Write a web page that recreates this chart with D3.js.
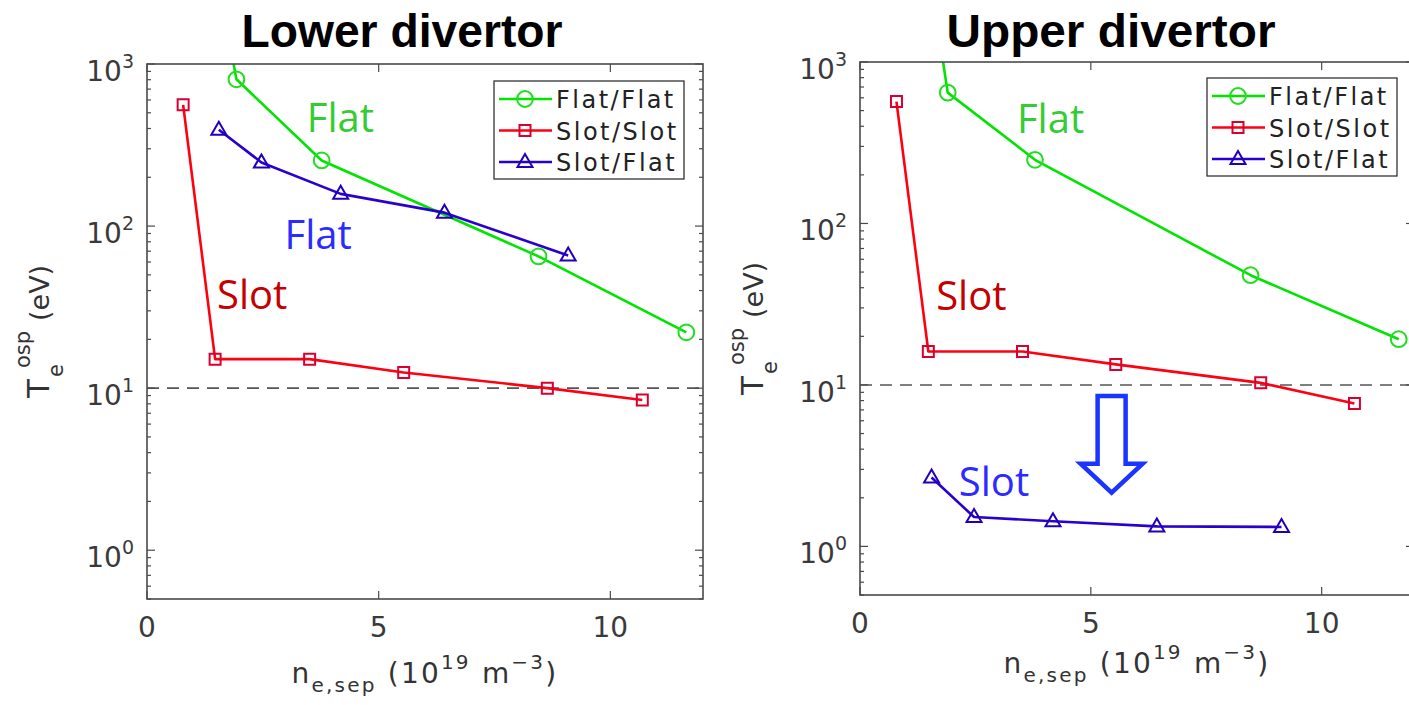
<!DOCTYPE html>
<html>
<head>
<meta charset="utf-8">
<script src="https://cdn.jsdelivr.net/npm/d3@7/dist/d3.min.js"></script>
<style>
  html, body { margin: 0; padding: 0; background: #fff; }
  svg { display: block; }
</style>
</head>
<body>
<svg id="chart" width="1409" height="705"></svg>
<script>
// ---- data: electron temperature at the outer strike point vs separatrix density ----
const seriesNames = ["Flat/Flat", "Slot/Slot", "Slot/Flat"];

// Lower divertor
const lowerFlatFlatN  = [1.5, 1.93, 3.77, 8.45, 11.64];
const lowerFlatFlatTe = [3800, 805, 254, 65, 22.1];
const lowerSlotSlotN  = [0.78, 1.47, 3.51, 5.54, 8.64, 10.69];
const lowerSlotSlotTe = [560, 15.1, 15.1, 12.5, 10.0, 8.44];
const lowerSlotFlatN  = [1.55, 2.47, 4.18, 6.42, 9.09];
const lowerSlotFlatTe = [393, 247, 158, 121, 65.8];

// Upper divertor
const upperFlatFlatN  = [1.5, 1.9, 3.79, 8.46, 11.67];
const upperFlatFlatTe = [3700, 646, 248, 47.8, 19.2];
const upperSlotSlotN  = [0.79, 1.48, 3.52, 5.54, 8.68, 10.71];
const upperSlotSlotTe = [569, 16.1, 16.1, 13.4, 10.3, 7.67];
const upperSlotFlatN  = [1.55, 2.47, 4.18, 6.43, 9.13];
const upperSlotFlatTe = [2.67, 1.52, 1.43, 1.33, 1.32];

// axes
const xDomain = [0, 12];
const yDomain = [0.5, 1000];
const xTicks = [0, 5, 10];
const yMajorTicks = [1, 10, 100, 1000];
const thresholdTe = 10;

// annotations: [text, n, Te (baseline), colour]
const lowerNotes = [["Flat", 3.45, 382, "#33cc33"], ["Flat", 2.97, 71.7, "#2b2bff"], ["Slot", 1.51, 30.6, "#c40000"]];
const upperNotes = [["Flat", 3.40, 365, "#33cc33"], ["Slot", 1.65, 29.0, "#c40000"], ["Slot", 2.14, 2.04, "#2b2bff"]];

// styles
const lineColors   = ["#00e400", "#ff0010", "#2a00d0"];
const markerColors = ["#22dd22", "#d80030", "#2200bb"];
const markerTypes  = ["circle", "square", "triangle"];
const axisColor = "#4a4a4a";
const textFont = "'DejaVu Sans', 'Liberation Sans', sans-serif";

const svg = d3.select("#chart");

function markerPath(type) {
  if (type === "circle") return d3.symbol(d3.symbolCircle, 195)();
  if (type === "square") return "M-5.5,-5.5H5.5V5.5H-5.5Z";
  return "M0,-8L7.5,5L-7.5,5Z";
}

function drawPanel(cfg) {
  const g = svg.append("g");
  const x = d3.scaleLinear().domain(xDomain).range([cfg.left, cfg.right]);
  const y = d3.scaleLog().domain(yDomain).range([cfg.bottom, cfg.top]);
  const clipId = "clip" + cfg.id;

  svg.append("clipPath").attr("id", clipId)
    .append("rect")
    .attr("x", cfg.left).attr("y", cfg.top)
    .attr("width", cfg.right - cfg.left).attr("height", cfg.bottom - cfg.top);

  // title
  g.append("text")
    .attr("x", cfg.titleX).attr("y", 47)
    .attr("text-anchor", "middle")
    .attr("font-family", "'Liberation Sans Narrow', 'Liberation Sans', Roboto, sans-serif")
    .attr("font-weight", "bold").attr("font-size", 46)
    .attr("textLength", cfg.titleW).attr("lengthAdjust", "spacingAndGlyphs")
    .attr("fill", "#000")
    .text(cfg.title);

  // threshold line
  g.append("line")
    .attr("x1", cfg.left).attr("x2", cfg.right)
    .attr("y1", y(thresholdTe)).attr("y2", y(thresholdTe))
    .attr("stroke", "#555").attr("stroke-width", 1.6)
    .attr("stroke-dasharray", "12,8");

  // series
  const plot = g.append("g").attr("clip-path", `url(#${clipId})`);
  const line = d3.line().x(d => x(d[0])).y(d => y(d[1]));
  cfg.series.forEach((s, i) => {
    const pts = d3.zip(s[0], s[1]);
    plot.append("path")
      .attr("d", line(pts))
      .attr("fill", "none")
      .attr("stroke", lineColors[i]).attr("stroke-width", 2.6)
      .attr("stroke-linejoin", "round");
    plot.selectAll(null).data(pts).join("path")
      .attr("d", markerPath(markerTypes[i]))
      .attr("transform", d => `translate(${x(d[0])},${y(d[1])})`)
      .attr("fill", "none")
      .attr("stroke", markerColors[i]).attr("stroke-width", 2);
  });

  // frame
  g.append("rect")
    .attr("x", cfg.left).attr("y", cfg.top)
    .attr("width", cfg.right - cfg.left).attr("height", cfg.bottom - cfg.top)
    .attr("fill", "none").attr("stroke", axisColor).attr("stroke-width", 1.6);

  // y ticks (log, inward on both sides)
  const minor = [];
  for (let e = -1; e <= 2; e++) for (let m = 2; m <= 9; m++) {
    const v = m * Math.pow(10, e);
    if (v >= yDomain[0] && v <= yDomain[1]) minor.push(v);
  }
  const yt = g.append("g").attr("stroke", axisColor).attr("stroke-width", 1.2);
  minor.forEach(v => {
    yt.append("line").attr("x1", cfg.left).attr("x2", cfg.left + 4).attr("y1", y(v)).attr("y2", y(v));
    yt.append("line").attr("x1", cfg.right).attr("x2", cfg.right - 4).attr("y1", y(v)).attr("y2", y(v));
  });
  yMajorTicks.forEach(v => {
    yt.append("line").attr("x1", cfg.left).attr("x2", cfg.left + 8).attr("y1", y(v)).attr("y2", y(v));
    yt.append("line").attr("x1", cfg.right).attr("x2", cfg.right - 8).attr("y1", y(v)).attr("y2", y(v));
    const t = g.append("text")
      .attr("x", cfg.left - 13).attr("y", y(v) + 17)
      .attr("text-anchor", "end")
      .attr("font-family", textFont).attr("font-size", 28).attr("fill", "#3a3a3a");
    t.append("tspan").text("10");
    t.append("tspan").attr("dy", -13).attr("font-size", 19).text(Math.round(Math.log10(v)));
  });

  // x ticks
  xTicks.forEach(v => {
    yt.append("line").attr("x1", x(v)).attr("x2", x(v)).attr("y1", cfg.bottom).attr("y2", cfg.bottom - 8);
    yt.append("line").attr("x1", x(v)).attr("x2", x(v)).attr("y1", cfg.top).attr("y2", cfg.top + 8);
    g.append("text")
      .attr("x", x(v)).attr("y", cfg.bottom + 38)
      .attr("text-anchor", "middle")
      .attr("font-family", textFont).attr("font-size", 28).attr("fill", "#3a3a3a")
      .text(v);
  });

  // x label
  const xl = g.append("text")
    .attr("x", cfg.xLabelX).attr("y", cfg.bottom + cfg.xLabelDy)
    .attr("text-anchor", "middle")
    .attr("font-family", textFont).attr("font-size", 28).attr("fill", "#333")
    .attr("letter-spacing", 2.2);
  xl.append("tspan").text("n");
  xl.append("tspan").attr("dy", 9).attr("font-size", 20).text("e,sep");
  xl.append("tspan").attr("dy", -9).text(" (10");
  xl.append("tspan").attr("dy", -14).attr("font-size", 20).text("19");
  xl.append("tspan").attr("dy", 14).text(" m");
  xl.append("tspan").attr("dy", -14).attr("font-size", 20).text("\u22123");
  xl.append("tspan").attr("dy", 14).text(")");

  // y label
  const yl = g.append("g")
    .attr("transform", `translate(${cfg.yLabelX},${cfg.yLabelY}) rotate(-90)`)
    .attr("font-family", textFont).attr("fill", "#333");
  yl.append("text").attr("x", 0).attr("y", 0).attr("font-size", 31).text("T");
  yl.append("text").attr("x", 30).attr("y", -19).attr("font-size", 21).text("osp");
  yl.append("text").attr("x", 21).attr("y", 14).attr("font-size", 21).text("e");
  yl.append("text").attr("x", 77).attr("y", 0).attr("font-size", 27).text("(eV)");

  // annotations
  cfg.notes.forEach(n => {
    g.append("text")
      .attr("x", x(n[1])).attr("y", y(n[2]))
      .attr("font-family", "'Open Sans', 'Noto Sans', sans-serif")
      .attr("font-size", 40).attr("fill", n[3])
      .text(n[0]);
  });

  // legend
  const lg = g.append("g");
  lg.append("rect")
    .attr("x", cfg.legX).attr("y", cfg.legY)
    .attr("width", 190).attr("height", 98)
    .attr("fill", "#fff").attr("stroke", "#333").attr("stroke-width", 1.3);
  seriesNames.forEach((name, i) => {
    const cy = cfg.legY + 18 + i * 31.5;
    lg.append("line")
      .attr("x1", cfg.legX + 5).attr("x2", cfg.legX + 58)
      .attr("y1", cy).attr("y2", cy)
      .attr("stroke", lineColors[i]).attr("stroke-width", 2.6);
    lg.append("path")
      .attr("d", markerPath(markerTypes[i]))
      .attr("transform", `translate(${cfg.legX + 31},${cy})`)
      .attr("fill", "none").attr("stroke", markerColors[i]).attr("stroke-width", 2);
    lg.append("text")
      .attr("x", cfg.legX + 62).attr("y", cy + 9)
      .attr("font-family", textFont).attr("font-size", 24)
      .attr("letter-spacing", 2.5).attr("fill", "#222")
      .text(name);
  });

  return { x, y, g };
}

// Lower divertor panel
drawPanel({
  id: "L", left: 147, right: 703, top: 64, bottom: 599,
  title: "Lower divertor", titleX: 402, titleW: 321,
  xLabelX: 425, xLabelDy: 84, yLabelX: 49, yLabelY: 398,
  legX: 494, legY: 81,
  notes: lowerNotes,
  series: [[lowerFlatFlatN, lowerFlatFlatTe], [lowerSlotSlotN, lowerSlotSlotTe], [lowerSlotFlatN, lowerSlotFlatTe]]
});

// Upper divertor panel
const upper = drawPanel({
  id: "U", left: 860, right: 1414, top: 62, bottom: 595,
  title: "Upper divertor", titleX: 1111, titleW: 329,
  xLabelX: 1137, xLabelDy: 78, yLabelX: 763, yLabelY: 395,
  legX: 1207, legY: 78,
  notes: upperNotes,
  series: [[upperFlatFlatN, upperFlatFlatTe], [upperSlotSlotN, upperSlotSlotTe], [upperSlotFlatN, upperSlotFlatTe]]
});

// hollow arrow pointing from the Slot/Slot trend down to the Slot/Flat trend
const arrowN = 5.45, arrowTopTe = 8.55, arrowTipTe = 2.15;
(function () {
  const cx = upper.x(arrowN), yTop = upper.y(arrowTopTe), yTip = upper.y(arrowTipTe);
  const shaftHalf = 14, headHalf = 31, headLen = 29;
  const p = d3.path();
  p.moveTo(cx - shaftHalf, yTop);
  p.lineTo(cx + shaftHalf, yTop);
  p.lineTo(cx + shaftHalf, yTip - headLen);
  p.lineTo(cx + headHalf, yTip - headLen);
  p.lineTo(cx, yTip);
  p.lineTo(cx - headHalf, yTip - headLen);
  p.lineTo(cx - shaftHalf, yTip - headLen);
  p.closePath();
  upper.g.append("path")
    .attr("d", p.toString())
    .attr("fill", "none").attr("stroke", "#1a35ff").attr("stroke-width", 4.5)
    .attr("stroke-linejoin", "miter");
})();
</script>
</body>
</html>
